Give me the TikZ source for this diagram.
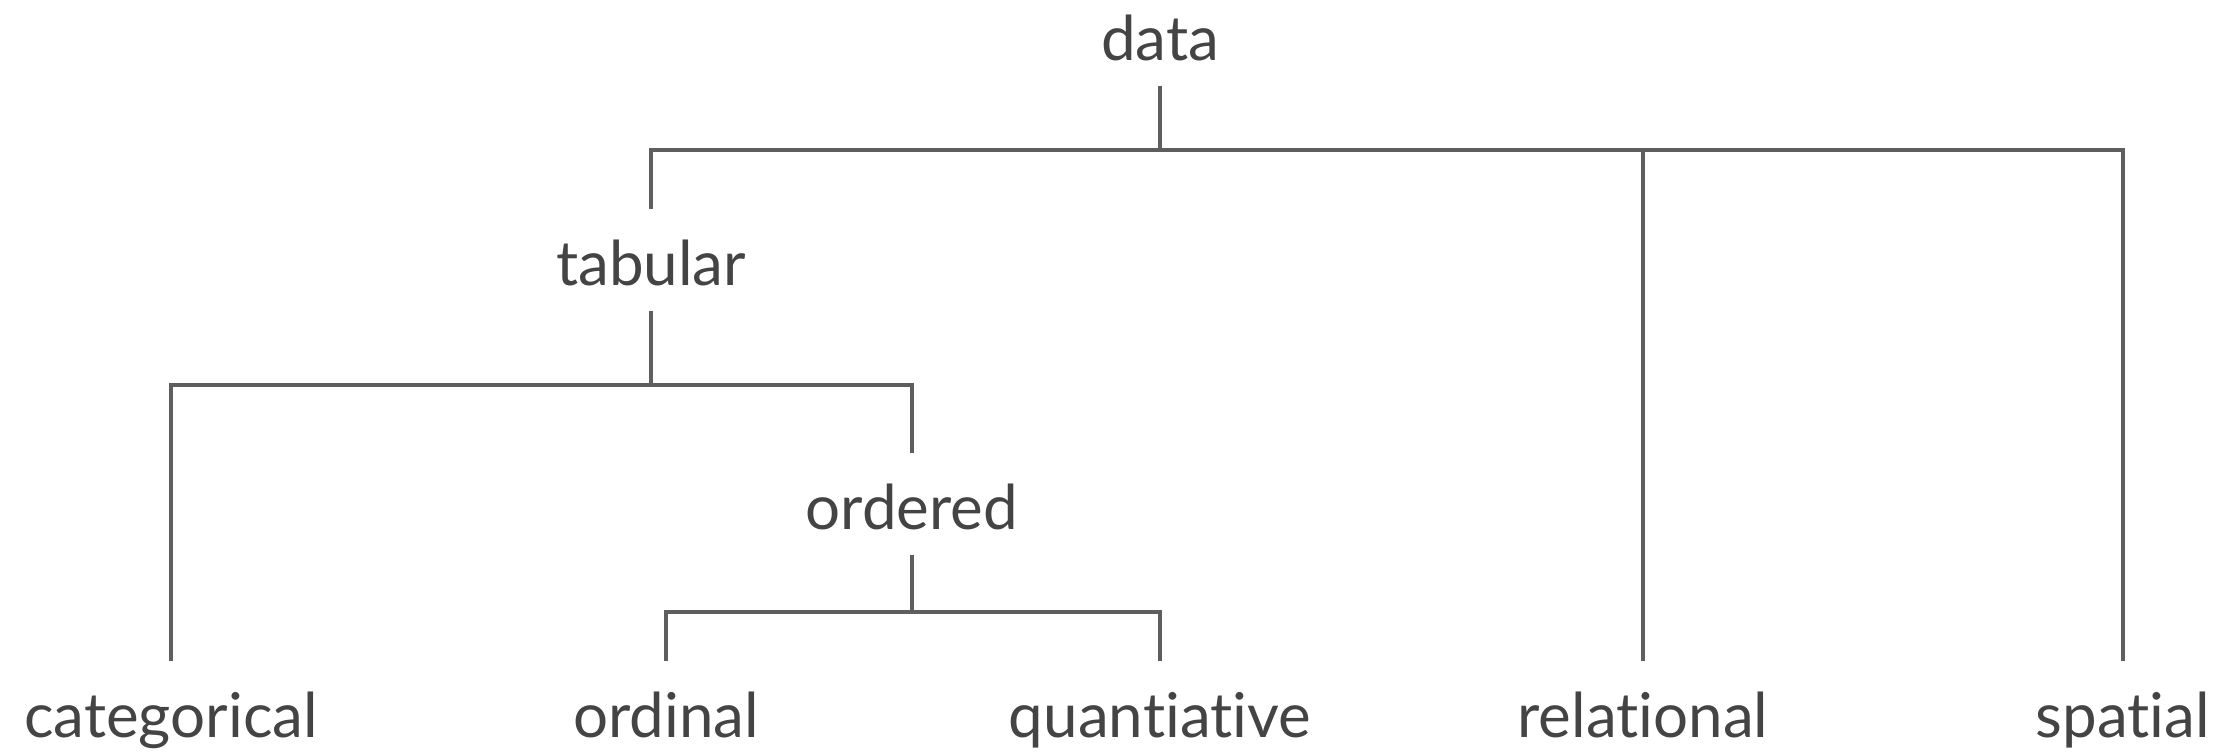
\documentclass[tikz,border=0pt]{standalone}
\usepackage{fontspec}
\setmainfont{Lato}[Ligatures=CommonOff]
\usepackage{tikz}
\definecolor{labelgray}{HTML}{444444}
\definecolor{linegray}{HTML}{5E5E5E}

\begin{document}
\begin{tikzpicture}[x=1cm, y=1cm,
		kind/.style = {anchor=base, text=labelgray, font=\fontsize{17.6pt}{20pt}\selectfont,
			text height=0.5cm, text depth=0cm, inner xsep=0pt, inner ysep=0.25cm},
		branch/.style = {draw=linegray, line width=1.1pt}]
			\useasboundingbox (0,0) rectangle (22.3,-7.55);
			% levels of the tree
			\node[kind] (data) at (11.60,-0.60) {data};
			\node[kind] (tabular) at (6.51,-2.85) {tabular};
			\node[kind] (ordered) at (9.12,-5.29) {ordered};
			\node[kind] (categorical) at (1.71,-7.37) {categorical};
			\node[kind] (ordinal) at (6.66,-7.37) {ordinal};
			\node[kind] (quantiative) at (11.60,-7.37) {quantiative};
			\node[kind] (relational) at (16.43,-7.37) {relational};
			\node[kind] (spatial) at (21.23,-7.37) {spatial};
			% data splits four ways
			\draw[branch] (data.south) -- ++(0,-0.64) -| (tabular.north);
			\draw[branch] (data.south) -- ++(0,-0.64) -| (relational.north);
			\draw[branch] (data.south) -- ++(0,-0.64) -| (spatial.north);
			% tabular
			\draw[branch] (tabular.south) -- ++(0,-0.74) -| (categorical.north);
			\draw[branch] (tabular.south) -- ++(0,-0.74) -| (ordered.north);
			% ordered
			\draw[branch] (ordered.south) -- ++(0,-0.57) -| (ordinal.north);
			\draw[branch] (ordered.south) -- ++(0,-0.57) -| (quantiative.north);
		\end{tikzpicture}
\end{document}
